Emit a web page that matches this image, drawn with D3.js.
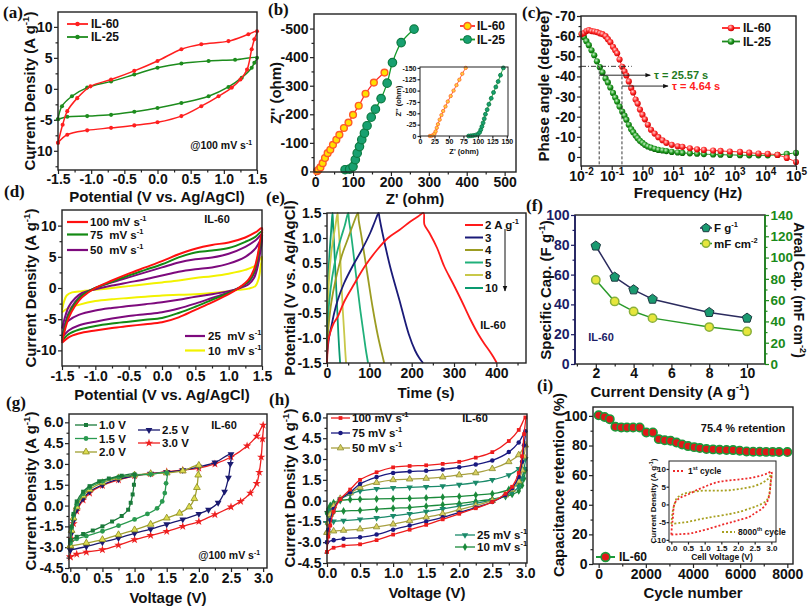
<!DOCTYPE html>
<html><head><meta charset="utf-8">
<script src="https://cdn.jsdelivr.net/npm/d3@7/dist/d3.min.js"></script>
<style>html,body{margin:0;padding:0;background:#fff;}svg{display:block;}</style>
</head><body>
<script>
// ================= DATA =================
// (a) CV at 100 mV/s, [V, A/g]
const aIL60 = [[-1.5,-8.7],[-1.43,-5.8],[-1.36,-3.6],[-1.21,-1.5],[-1.01,0.4],[-0.7,1.5],[-0.35,2.9],[0,4.5],[0.36,6.4],[0.66,7.2],[1.07,7.7],[1.37,8.8],[1.5,9.3],
  [1.46,8.0],[1.42,6.4],[1.35,3.1],[1.25,1.5],[1.12,0.2],[0.92,-1.2],[0.66,-2.8],[0.36,-4.4],[0,-5.4],[-0.35,-5.9],[-0.7,-6.3],[-1.06,-6.7],[-1.36,-7.4],[-1.5,-8.7]];
const aIL25 = [[-1.5,-4.9],[-1.44,-2.8],[-1.29,-1.2],[-1.06,0.2],[-0.7,1.2],[-0.35,2.3],[0,3.4],[0.36,4.1],[0.77,4.5],[1.17,4.7],[1.5,5.0],
  [1.46,4.2],[1.42,3.4],[1.27,1.8],[1.07,0.3],[0.77,-1.2],[0.36,-2.3],[0,-3.1],[-0.35,-3.7],[-0.7,-4.2],[-1.06,-4.4],[-1.36,-4.5],[-1.5,-4.9]];
const aXTicks = [-1.5,-1,-0.5,0,0.5,1,1.5];
const aYTicks = [-10,-5,0,5,10];

// (b) Nyquist [Z', -Z'']
const bIL60 = [[5,1],[9,6],[14,14],[20,29],[26,47],[33,64],[40,76],[47,93],[56,111],[64,128],[76,152],[88,171],[100,198],[115,230],[133,272],[155,311],[183,346]];
const bIL25 = [[79,6],[91,8],[100,17],[106,41],[111,64],[117,87],[123,111],[130,134],[137,160],[148,190],[159,218],[174,255],[190,309],[204,381],[227,451],[261,498]];
const bInIL60 = [[17,0],[20,0.5],[23,2],[25,5],[27,10],[29,18],[31,26],[34,36],[37,46],[40,55],[44,65],[48,76],[53,88],[58,100],[63,112],[68,124],[73,137],[79,150]];
const bInIL25 = [[84,0],[88,0.5],[92,1],[96,2],[100,4],[103,8],[105,14],[107,21],[109,29],[111,38],[113,48],[116,58],[119,70],[123,83],[127,96],[131,108],[135,120],[139,134],[144,150]];
const bXTicks = [0,100,200,300,400,500];
const bYTicks = [0,100,200,300,400,500];
const bInTicks = [0,25,50,75,100,125,150];

// (c) Bode phase
const cFreq = [0.0105,0.0125,0.015,0.018,0.022,0.027,0.033,0.041,0.05,0.063,0.075,0.09,0.11,0.13,0.15,0.18,0.22,0.26,0.3,0.36,0.43,0.5,0.6,0.7,0.83,1.0,1.2,1.5,1.9,2.5,3.3,4.5,6,9,14,20,35,60,100,200,350,700,1500,3000,6000,1.2e4,2.5e4,5e4,1e5];
const cPhase60 = [-61,-61.5,-62.5,-63,-62.5,-62.3,-62,-61.4,-61,-60,-58.5,-57,-54.7,-53,-51.5,-48.4,-44.8,-42.5,-40.5,-37.5,-34.3,-32,-28.5,-26.5,-23.5,-21,-18.7,-16,-13.5,-11.6,-9.8,-8.3,-7,-6,-5.3,-5,-4.3,-3.8,-3.5,-3.2,-3,-2.7,-2.5,-2.1,-1.7,-1.5,-1.0,0.5,2.5];
const cPhase25 = [-61,-59.5,-57.5,-55.5,-53,-50.5,-47.5,-44.6,-42,-39,-37,-34.5,-31.8,-29.5,-27.5,-25,-22.5,-20.5,-18.5,-16,-13.8,-12.3,-10.6,-9.3,-8,-7,-6,-5.2,-4.6,-4,-3.5,-3.2,-2.9,-2.5,-2.2,-2,-1.8,-1.6,-1.4,-1.2,-1.1,-1.0,-0.9,-0.8,-0.8,-0.8,-1.0,-1.5,-2.0];
const cTau = [25.57, 4.64];
const cXTicks = [1e-2,1e-1,1e0,1e1,1e2,1e3,1e4,1e5];
const cYTicks = [0,-10,-20,-30,-40,-50,-60,-70];

// (d) CV of IL-60 at scan rates
const dR100 = [[-1.5,-8.8],[-1.45,-6.5],[-1.4,-4.8],[-1.3,-2.8],[-1.2,-1.5],[-1.0,0],[-0.75,1.2],[-0.5,2.3],[-0.25,3.3],[0,4.3],[0.25,5.4],[0.5,6.3],[0.75,6.9],[1.0,7.3],[1.25,8.1],[1.4,8.9],[1.5,9.6],
  [1.47,7.5],[1.43,5],[1.38,3],[1.3,1.4],[1.15,0],[1.0,-1.0],[0.75,-2.3],[0.5,-3.5],[0.25,-4.7],[0,-5.5],[-0.25,-5.8],[-0.5,-6.1],[-0.75,-6.4],[-1.0,-6.8],[-1.25,-7.3],[-1.4,-7.9],[-1.5,-8.8]];
const dG75 = [[-1.5,-8.5],[-1.45,-6],[-1.4,-4.3],[-1.3,-2.4],[-1.2,-1.2],[-1.0,0],[-0.75,1.0],[-0.5,2.0],[-0.25,2.9],[0,3.8],[0.25,4.9],[0.5,5.7],[0.75,6.0],[1.0,6.4],[1.25,7.4],[1.4,8.2],[1.5,9.1],
  [1.47,7],[1.43,4.5],[1.38,2.6],[1.3,1.1],[1.15,0],[1.0,-0.8],[0.75,-1.9],[0.5,-3.0],[0.25,-4.0],[0,-4.8],[-0.25,-5.1],[-0.5,-5.4],[-0.75,-5.7],[-1.0,-6.1],[-1.25,-6.7],[-1.4,-7.4],[-1.5,-8.5]];
const dP50 = [[-1.5,-8.0],[-1.45,-5.6],[-1.4,-4.0],[-1.3,-2.2],[-1.2,-1.1],[-1.0,0],[-0.75,0.9],[-0.5,1.7],[-0.25,2.5],[0,3.3],[0.25,4.1],[0.5,4.6],[0.75,4.9],[1.0,5.5],[1.25,6.6],[1.4,7.6],[1.5,8.6],
  [1.47,6.5],[1.43,4.2],[1.38,2.3],[1.3,1.0],[1.15,0],[1.0,-0.7],[0.75,-1.6],[0.5,-2.5],[0.25,-3.3],[0,-3.9],[-0.25,-4.2],[-0.5,-4.5],[-0.75,-4.9],[-1.0,-5.4],[-1.25,-6.0],[-1.4,-6.8],[-1.5,-8.0]];
const dP25 = [[-1.5,-6.5],[-1.45,-4.5],[-1.4,-3.0],[-1.3,-1.6],[-1.2,-0.8],[-1.0,-0.2],[-0.75,0.4],[-0.5,0.9],[-0.25,1.4],[0,2.0],[0.25,2.6],[0.5,3.0],[0.75,3.3],[1.0,3.9],[1.25,5.0],[1.4,6.3],[1.5,8.0],
  [1.47,5.5],[1.43,3.2],[1.38,1.6],[1.3,0.6],[1.15,-0.1],[1.0,-0.5],[0.75,-1.0],[0.5,-1.4],[0.25,-1.9],[0,-2.3],[-0.25,-2.6],[-0.5,-2.9],[-0.75,-3.2],[-1.0,-3.6],[-1.25,-4.3],[-1.4,-5.2],[-1.5,-6.5]];
const dY10 = [[-1.5,-3.5],[-1.47,-2.2],[-1.43,-1.2],[-1.35,-0.7],[-1.2,-0.5],[-1.0,-0.3],[-0.75,0],[-0.5,0.3],[-0.25,0.6],[0,0.9],[0.25,1.2],[0.5,1.6],[0.75,1.9],[1.0,2.3],[1.25,2.9],[1.4,3.6],[1.5,5.0],
  [1.48,3.5],[1.45,1.5],[1.4,0.3],[1.3,-0.1],[1.15,-0.3],[1.0,-0.5],[0.75,-0.8],[0.5,-1.0],[0.25,-1.1],[0,-1.2],[-0.25,-1.4],[-0.5,-1.6],[-0.75,-1.8],[-1.0,-2.1],[-1.25,-2.7],[-1.4,-3.2],[-1.5,-3.9]];

// (e) GCD [t s, V]
const eR2 = [[0,-1.5],[1,-1.3],[3,-1.05],[8,-0.88],[15,-0.72],[25,-0.58],[42,-0.25],[65,0.09],[89,0.43],[118,0.76],[144,1.0],[171,1.16],[197,1.33],[215,1.43],[228,1.5],
  [230,1.27],[242,1.1],[260,0.8],[277,0.43],[297,0.1],[317,-0.24],[337,-0.6],[357,-0.92],[372,-1.12],[383,-1.25],[393,-1.38],[401,-1.5]];
const eN3 = [[0,-1.5],[0.5,-1.3],[2,-1.18],[5,-0.98],[10,-0.78],[17,-0.5],[25,-0.25],[40,0.09],[60,0.43],[82,0.76],[102,1.1],[113,1.33],[122,1.5],
  [124,1.4],[131,1.1],[149,0.43],[171,-0.24],[193,-0.92],[208,-1.25],[218,-1.4],[227,-1.5]];
const eO4 = [[0,-1.5],[0.5,-1.2],[2,-0.95],[5,-0.65],[10,-0.3],[20,0.15],[35,0.65],[50,1.0],[62,1.28],[73,1.5],
  [75,1.35],[82,1.0],[95,0.3],[108,-0.4],[120,-0.95],[128,-1.25],[135,-1.5]];
const eG5 = [[0,-1.5],[0.5,-1.1],[2,-0.7],[5,-0.3],[12,0.2],[22,0.65],[33,1.0],[42,1.25],[50,1.5],
  [52,1.35],[58,1.0],[68,0.3],[78,-0.4],[87,-0.95],[92,-1.25],[97,-1.5]];
const eY8 = [[0,-1.5],[0.5,-0.9],[2,-0.3],[5,0.2],[10,0.7],[15,1.0],[20,1.25],[25,1.5],
  [26,1.35],[29,1.0],[33,0.3],[37,-0.4],[41,-0.95],[43,-1.25],[45,-1.5]];
const eT10 = [[0,-1.5],[0.3,-0.9],[1,-0.4],[3,0.2],[6,0.7],[9,1.05],[11,1.3],[13,1.5],
  [14,1.35],[16,1.0],[20,0.3],[24,-0.4],[27,-0.95],[29,-1.25],[31,-1.5]];
const eLegend = ["2 A g", "3", "4", "5", "8", "10"];
const eXTicks = [0,100,200,300,400];
const eYTicks = [-1.5,-1,-0.5,0,0.5,1,1.5];

// (f) rate capability
const fCurrent = [2,3,4,5,8,10];
const fSpecific = [79.2,58.3,49.8,43.5,34.6,30.8];
const fAreal = [79,58.8,49.4,43.1,34.7,30.6];
const fXTicks = [2,4,6,8,10];
const fYTicks = [0,20,40,60,80,100];
const fY2Ticks = [0,20,40,60,80,100,120,140];

// (g) CV at voltage windows (100 mV/s)
const g10 = [[0,-2.5],[0.02,-1.5],[0.05,-0.6],[0.1,0.3],[0.2,1.0],[0.3,1.4],[0.45,1.75],[0.6,1.95],[0.8,2.15],[1.0,2.25],
  [0.99,1.5],[0.97,0.8],[0.94,0.2],[0.9,-0.3],[0.8,-0.75],[0.65,-1.15],[0.5,-1.5],[0.35,-1.8],[0.2,-2.05],[0.1,-2.25],[0,-2.5]];
const g15 = [[0,-2.7],[0.02,-1.6],[0.05,-0.7],[0.1,0.1],[0.2,0.85],[0.3,1.3],[0.5,1.75],[0.75,2.05],[1.0,2.2],[1.25,2.25],[1.5,2.35],
  [1.49,1.6],[1.47,0.9],[1.43,0.3],[1.35,-0.2],[1.2,-0.6],[1.0,-1.0],[0.75,-1.45],[0.5,-1.85],[0.25,-2.2],[0.1,-2.4],[0,-2.7]];
const g20 = [[0,-2.9],[0.02,-1.8],[0.05,-0.9],[0.1,-0.1],[0.2,0.7],[0.3,1.15],[0.5,1.65],[0.75,2.0],[1.0,2.2],[1.25,2.3],[1.5,2.35],[1.75,2.5],[2.0,2.9],
  [1.99,2.2],[1.97,1.3],[1.93,0.5],[1.85,-0.1],[1.7,-0.55],[1.5,-0.9],[1.25,-1.35],[1.0,-1.75],[0.75,-2.1],[0.5,-2.45],[0.25,-2.7],[0,-2.9]];
const g25 = [[0,-3.2],[0.02,-2.0],[0.05,-1.1],[0.1,-0.3],[0.2,0.5],[0.3,1.0],[0.5,1.5],[0.75,1.9],[1.0,2.15],[1.25,2.3],[1.5,2.4],[1.75,2.55],[2.0,2.8],[2.25,3.1],[2.5,3.7],
  [2.49,3.0],[2.46,2.0],[2.4,1.0],[2.3,0.2],[2.15,-0.3],[2.0,-0.6],[1.75,-1.0],[1.5,-1.35],[1.25,-1.7],[1.0,-2.0],[0.75,-2.35],[0.5,-2.65],[0.25,-2.95],[0,-3.2]];
const g30 = [[0,-3.7],[0.02,-2.4],[0.05,-1.3],[0.1,-0.4],[0.2,0.4],[0.3,0.9],[0.5,1.45],[0.75,1.85],[1.0,2.15],[1.25,2.3],[1.5,2.45],[1.75,2.55],[2.0,2.7],[2.25,3.0],[2.5,3.5],[2.75,4.3],[2.9,5.0],[3.0,5.8],
  [2.99,4.8],[2.97,3.5],[2.94,2.4],[2.9,1.6],[2.8,0.9],[2.65,0.3],[2.5,-0.1],[2.25,-0.65],[2.0,-1.15],[1.75,-1.5],[1.5,-1.86],[1.25,-2.15],[1.0,-2.46],[0.75,-2.85],[0.5,-3.18],[0.25,-3.35],[0.1,-3.5],[0,-3.7]];
const gVTicks = [0,0.5,1,1.5,2,2.5,3];
const gITicks = [-4.5,-3,-1.5,0,1.5,3,4.5,6];

// (h) CV of device at scan rates
const h100 = [[0,-3.7],[0.02,-2.6],[0.05,-1.8],[0.1,-0.8],[0.2,0.1],[0.35,0.8],[0.5,1.5],[0.75,2.05],[1.0,2.4],[1.25,2.5],[1.5,2.55],[1.75,2.65],[2.0,2.8],[2.25,3.1],[2.5,3.5],[2.75,4.3],[2.9,5.1],[3.0,6.0],
  [2.98,4.8],[2.95,3.2],[2.9,2.0],[2.8,1.0],[2.7,0.5],[2.5,-0.1],[2.25,-0.55],[2.0,-0.95],[1.75,-1.35],[1.5,-1.75],[1.25,-2.1],[1.0,-2.45],[0.75,-2.85],[0.5,-3.15],[0.25,-3.25],[0.1,-3.4],[0,-3.7]];
const h75 = [[0,-3.0],[0.02,-2.1],[0.05,-1.4],[0.1,-0.6],[0.2,0.1],[0.35,0.6],[0.5,1.2],[0.75,1.7],[1.0,2.0],[1.25,2.1],[1.5,2.15],[1.75,2.25],[2.0,2.4],[2.25,2.6],[2.5,2.9],[2.75,3.5],[2.9,4.2],[3.0,5.0],
  [2.98,4.0],[2.95,2.8],[2.9,1.7],[2.8,0.9],[2.7,0.4],[2.5,-0.1],[2.25,-0.5],[2.0,-0.85],[1.75,-1.2],[1.5,-1.5],[1.25,-1.8],[1.0,-2.1],[0.75,-2.45],[0.5,-2.65],[0.25,-2.75],[0.1,-2.85],[0,-3.0]];
const h50 = [[0,-2.3],[0.02,-1.6],[0.05,-1.0],[0.1,-0.4],[0.2,0.15],[0.35,0.55],[0.5,0.95],[0.75,1.3],[1.0,1.5],[1.25,1.55],[1.5,1.6],[1.75,1.7],[2.0,1.85],[2.25,2.0],[2.5,2.3],[2.75,2.8],[2.9,3.3],[3.0,4.0],
  [2.98,3.2],[2.95,2.2],[2.9,1.4],[2.8,0.8],[2.7,0.4],[2.5,0.0],[2.25,-0.35],[2.0,-0.65],[1.75,-0.95],[1.5,-1.2],[1.25,-1.45],[1.0,-1.7],[0.75,-1.9],[0.5,-2.05],[0.25,-2.15],[0.1,-2.2],[0,-2.3]];
const h25 = [[0,-1.6],[0.02,-1.1],[0.05,-0.7],[0.1,-0.3],[0.2,0.1],[0.35,0.45],[0.5,0.7],[0.75,0.85],[1.0,0.92],[1.25,0.95],[1.5,1.0],[1.75,1.05],[2.0,1.15],[2.25,1.3],[2.5,1.5],[2.75,1.85],[2.9,2.3],[3.0,3.0],
  [2.98,2.3],[2.95,1.6],[2.9,1.0],[2.8,0.6],[2.7,0.35],[2.5,0.05],[2.25,-0.2],[2.0,-0.4],[1.75,-0.6],[1.5,-0.8],[1.25,-0.95],[1.0,-1.1],[0.75,-1.25],[0.5,-1.35],[0.25,-1.45],[0.1,-1.5],[0,-1.6]];
const h10 = [[0,-0.9],[0.02,-0.6],[0.05,-0.35],[0.1,-0.15],[0.2,0.0],[0.35,0.08],[0.5,0.1],[0.75,0.12],[1.0,0.14],[1.25,0.16],[1.5,0.2],[1.75,0.25],[2.0,0.3],[2.25,0.4],[2.5,0.5],[2.75,0.8],[2.9,1.3],[3.0,2.2],
  [2.98,1.6],[2.95,1.1],[2.9,0.7],[2.8,0.45],[2.7,0.3],[2.5,0.1],[2.25,-0.05],[2.0,-0.2],[1.75,-0.3],[1.5,-0.4],[1.25,-0.5],[1.0,-0.55],[0.75,-0.62],[0.5,-0.7],[0.25,-0.75],[0.1,-0.8],[0,-0.9]];

// (i) cycling stability
const iCycle = [0,250,470,710,960,1200,1460,1740,2020,2300,2550,2800,3050,3300,3540,3790,4050,4290,4570,4850,5130,5420,5700,5980,6270,6550,6830,7100,7380,7650,8000];
const iRetention = [100.4,99.3,97.8,92.6,92.2,92.2,92.2,92.2,88.8,88.8,84.3,83.6,83.2,82,80.7,79.6,78.9,78.3,77.6,77.4,77.1,77,76.9,76.5,76,75.8,75.8,75.7,75.7,75.6,75.6];
const iFirst = [[0,-8.5],[0.02,-6],[0.05,-3.5],[0.1,0.3],[0.25,1.8],[0.5,2.8],[0.75,4.0],[1.0,5.0],[1.25,5.9],[1.5,6.5],[1.75,6.8],[2.0,7.0],[2.25,7.3],[2.5,7.7],[2.75,8.3],[2.9,8.8],[3.0,9.3],
  [2.98,6],[2.93,2.2],[2.85,0.3],[2.73,-1.1],[2.5,-2.5],[2.34,-3.5],[2.0,-4.5],[1.74,-5.2],[1.5,-5.8],[1.15,-6.8],[0.8,-7.7],[0.55,-8.2],[0.25,-8.4],[0,-8.5]];
const i8000 = [[0,-5.5],[0.02,-3.5],[0.05,-1.5],[0.1,0.2],[0.16,1.7],[0.3,2.7],[0.5,3.3],[0.75,3.7],[1.0,3.9],[1.25,3.9],[1.5,3.9],[1.75,4.0],[2.0,4.3],[2.25,4.7],[2.5,5.2],[2.75,6.2],[2.9,7.2],[3.0,8.5],
  [2.98,6.5],[2.93,2.6],[2.85,1.0],[2.63,-0.2],[2.4,-1.0],[2.04,-2.1],[1.75,-2.7],[1.25,-3.5],[1.0,-3.9],[0.75,-4.4],[0.5,-4.9],[0.25,-5.2],[0,-5.5]];
const iXTicks = [0,2000,4000,6000,8000];
const iYTicks = [0,20,40,60,80,100];
const iInX = [0,0.5,1,1.5,2,2.5,3];
const iInY = [-10,-5,0,5,10];

// ================= DRAWING =================
const FONT = '"Liberation Sans", Arial, Helvetica, sans-serif';
const SERIF = '"Liberation Serif", "Times New Roman", serif';
const svg = d3.select("body").append("svg").attr("width",809).attr("height",608)
  .attr("font-family",FONT);
svg.append("rect").attr("width",809).attr("height",608).attr("fill","#fff");
const defs = svg.append("defs");
function grad(id,c0,c1,c2){
  const g=defs.append("radialGradient").attr("id",id).attr("cx","40%").attr("cy","35%").attr("r","65%");
  g.append("stop").attr("offset","0%").attr("stop-color",c0);
  g.append("stop").attr("offset","55%").attr("stop-color",c1);
  g.append("stop").attr("offset","100%").attr("stop-color",c2);
}
grad("gRed","#ffd0d0","#ff2a2a","#c80000");
grad("gGrn","#c8f0c8","#1e9a1e","#0a600a");
defs.append("marker").attr("id","arr").attr("viewBox","0 0 10 10").attr("refX",9).attr("refY",5)
  .attr("markerWidth",6).attr("markerHeight",6).attr("orient","auto")
  .append("path").attr("d","M0,1 L10,5 L0,9 Z").attr("fill","#111");

const fmt = dec => d => (d < -1e-9 ? "-" : "") + Math.abs(d).toFixed(dec);
const range = (a,b,s) => d3.range(a, b + s/2, s);

function panel(p){
  const x = (p.log ? d3.scaleLog() : d3.scaleLinear()).domain(p.xd).range([p.L,p.R]);
  const y = d3.scaleLinear().domain(p.yd).range([p.B,p.T]);
  const g = svg.append("g");
  const fs = p.fs || 14;
  const st = (sel,color,size) => {
    sel.select(".domain").remove();
    sel.selectAll("line").attr("stroke", color||"#222").attr("stroke-width",1.2);
    sel.selectAll("text").attr("font-size",size||fs).attr("font-weight","bold").attr("fill",color||"#111").attr("font-family",FONT);
  };
  if (p.bg) g.append("rect").attr("x",p.L).attr("y",p.T).attr("width",p.R-p.L).attr("height",p.B-p.T).attr("fill","#fff");
  const tl = p.tick || 4, ml = p.minor || 2.5;
  if (p.xMinor) st(g.append("g").attr("transform",`translate(0,${p.B})`).call(d3.axisBottom(x).tickValues(p.xMinor).tickSize(ml).tickFormat("")));
  if (p.yMinor) st(g.append("g").attr("transform",`translate(${p.L},0)`).call(d3.axisLeft(y).tickValues(p.yMinor).tickSize(ml).tickFormat("")), p.yColor);
  const xa = g.append("g").attr("transform",`translate(0,${p.B})`)
    .call(d3.axisBottom(x).tickValues(p.xTicks).tickSize(tl).tickPadding(p.xpad ?? p.pad ?? 1.5).tickFormat(p.xFmt));
  st(xa);
  const ya = g.append("g").attr("transform",`translate(${p.L},0)`)
    .call(d3.axisLeft(y).tickValues(p.yTicks).tickSize(tl).tickPadding(p.pad ?? 1.5).tickFormat(p.yFmt));
  st(ya, p.yColor, p.yfs);
  const layer = g.append("g");
  g.append("rect").attr("x",p.L).attr("y",p.T).attr("width",p.R-p.L).attr("height",p.B-p.T)
    .attr("fill","none").attr("stroke","#222").attr("stroke-width",p.fw||1.4);
  return {x,y,g,layer,xa,ya,st,p};
}

function text(x0,y0,parts,o={}){
  const fs=o.fs||15;
  const t=svg.append("text").attr("x",x0).attr("y",y0).attr("font-size",fs).attr("font-weight",o.weight||"bold")
    .attr("fill",o.color||"#111").attr("text-anchor",o.anchor||"middle").attr("font-family",o.family||FONT);
  if(o.rot) t.attr("transform",`rotate(${o.rot},${x0},${y0})`);
  let cur=0;
  (Array.isArray(parts)?parts:[parts]).forEach(pt=>{
    const sup = typeof pt!=="string";
    const target = sup ? -fs*0.42 : 0;
    const ts=t.append("tspan").attr("dy",target-cur).text(sup?pt.s:pt);
    if(sup) ts.attr("font-size",fs*0.65);
    cur=target;
  });
  return t;
}

const rom = d3.curveCatmullRom.alpha(0.5);
function series(P, data, o){
  const line=d3.line().x(d=>P.x(d[0])).y(d=>P.y(d[1])).curve(o.curve||rom);
  if(o.line!==false) P.layer.append("path").attr("d",line(data)).attr("fill","none").attr("stroke",o.color)
    .attr("stroke-width",o.w||1.5).attr("stroke-dasharray",o.dash||null).attr("stroke-linejoin","round");
  if(o.sym){
    P.layer.append("g").selectAll("path").data(data).join("path")
      .attr("transform",d=>`translate(${P.x(d[0])},${P.y(d[1])})${o.rot?` rotate(${o.rot})`:""}`)
      .attr("d",d3.symbol(o.sym,o.size||14)).attr("fill",o.fill||o.color)
      .attr("stroke",o.stroke||"none").attr("stroke-width",o.sw||1);
  }
}
function legendItem(x1,x2,yy,o,label,tx,fs){
  svg.append("line").attr("x1",x1).attr("x2",x2).attr("y1",yy).attr("y2",yy).attr("stroke",o.color)
    .attr("stroke-width",o.w||1.8).attr("stroke-dasharray",o.dash||null);
  if(o.sym) svg.append("path").attr("transform",`translate(${(x1+x2)/2},${yy})${o.rot?` rotate(${o.rot})`:""}`)
    .attr("d",d3.symbol(o.sym,o.size||14)).attr("fill",o.fill||o.color).attr("stroke",o.stroke||"none").attr("stroke-width",o.sw||1);
  text(tx, yy+fs*0.36, label, {fs:fs, anchor:"start"});
}
const pentagon = {draw(ctx,size){const r=Math.sqrt(size/2.38);for(let i=0;i<5;i++){const a=-Math.PI/2+i*2*Math.PI/5;const px=r*Math.cos(a),py=r*Math.sin(a);i?ctx.lineTo(px,py):ctx.moveTo(px,py);}ctx.closePath();}};

// panel labels
[["(a)",3,18],["(b)",268,15],["(c)",522,18],["(d)",4,197],["(e)",266,203],["(f)",526,211],["(g)",6,408],["(h)",269,405],["(i)",537,391]]
  .forEach(([s,x0,y0])=>text(x0,y0,s,{fs:17,anchor:"start",family:SERIF}));

// ---------- (a) ----------
{
  const P=panel({L:58,R:257,T:12,B:170,xd:[-1.5,1.5],yd:[-13.1,12.4],xTicks:aXTicks,yTicks:aYTicks,xpad:0.5,
    xMinor:range(-1.25,1.25,0.5),yMinor:[-7.5,-2.5,2.5,7.5,-12.5],xFmt:fmt(1),yFmt:fmt(0)});
  series(P,aIL25,{color:"#1d8c1d",w:1.5,sym:d3.symbolCircle,size:13});
  series(P,aIL60,{color:"#ff1f1f",w:1.5,sym:d3.symbolCircle,size:13});
  legendItem(67,88,24,{color:"#ff1f1f",sym:d3.symbolCircle,size:16},"IL-60",91,12);
  legendItem(67,88,37,{color:"#1d8c1d",sym:d3.symbolCircle,size:16},"IL-25",91,12);
  text(252,149,["@100 mV s",{s:"-1"}],{fs:10.5,anchor:"end"});
  text(157,201.5,"Potential (V vs. Ag/AgCl)");
  text(35,91,["Current Density (A g",{s:"-1"},")"],{rot:-90});
}
// ---------- (b) ----------
{
  const P=panel({L:314,R:516,T:14,B:172,xd:[-3,530],yd:[-2,551],xTicks:bXTicks,yTicks:bYTicks,
    xMinor:range(50,450,100),yMinor:range(50,450,100),xFmt:fmt(0),yFmt:d=>d===0?"0":"-"+d});
  series(P,bIL60,{color:"#ff2a2a",w:1.3,sym:d3.symbolCircle,size:36,fill:"#ffe000",stroke:"#ff5a2a",sw:1.4});
  series(P,bIL25,{color:"#139a2a",w:1.3,sym:d3.symbolCircle,size:56,fill:"#18a070",stroke:"#0a7a40",sw:1.2});
  legendItem(460,475,26,{color:"#ff2a2a",sym:d3.symbolCircle,size:40,fill:"#ffe000",stroke:"#ff5a2a",sw:1.4},"IL-60",477,12);
  legendItem(460,475,39.5,{color:"#139a2a",sym:d3.symbolCircle,size:50,fill:"#18a070",stroke:"#0a7a40"},"IL-25",477,12);
  text(415,204,"Z' (ohm)");
  text(281,93,"Z'' (ohm)",{rot:-90});
  // inset
  const Q=panel({L:420,R:508,T:67,B:136,xd:[0,152],yd:[0,152],xTicks:bInTicks,yTicks:bInTicks,bg:true,
    fs:7,tick:2.5,pad:1,fw:1,xFmt:fmt(0),yFmt:d=>d===0?"0":"-"+d});
  series(Q,bInIL60,{color:"#ff4a2a",w:0.9,sym:d3.symbolCircle,size:9,fill:"#ffd040",stroke:"#ff6a2a",sw:0.8});
  series(Q,bInIL25,{color:"#139a2a",w:0.9,sym:d3.symbolCircle,size:12,fill:"#18a070",stroke:"#0a7a40",sw:0.8});
  text(464,154,"Z' (ohm)",{fs:7.5});
  text(401,101,"Z'' (ohm)",{fs:7.5,rot:-90});
}
// ---------- (c) ----------
{
  const P=panel({L:581,R:796,T:16,B:166,log:true,xd:[1e-2,1e5],yd:[4.5,-70],xTicks:cXTicks,yTicks:cYTicks,
    yMinor:range(-65,-5,10),xFmt:()=>"",yFmt:fmt(0),yfs:14});
  P.xa.selectAll(".tick text").each(function(d){
    const t=d3.select(this); t.text("");
    t.append("tspan").text("10");
    t.append("tspan").attr("dy",-6).attr("font-size",10).text(Math.round(Math.log10(d)));
  });
  const d60=cFreq.map((f,i)=>[f,cPhase60[i]]), d25=cFreq.map((f,i)=>[f,cPhase25[i]]);
  series(P,d25,{color:"#1e8a1e",w:1,sym:d3.symbolCircle,size:30,fill:"url(#gGrn)"});
  series(P,d60,{color:"#ff2020",w:1,sym:d3.symbolCircle,size:30,fill:"url(#gRed)"});
  const f1=1/cTau[0], f2=1/cTau[1];
  const L=P.layer;
  L.append("line").attr("x1",P.x(1e-2)).attr("x2",P.x(0.45)).attr("y1",P.y(-45)).attr("y2",P.y(-45))
    .attr("stroke","#222").attr("stroke-width",0.9).attr("stroke-dasharray","5,2,1,2");
  [f1,f2].forEach(f=>L.append("line").attr("x1",P.x(f)).attr("x2",P.x(f)).attr("y1",P.y(-45)).attr("y2",P.y(4.5))
    .attr("stroke","#222").attr("stroke-width",0.9).attr("stroke-dasharray","3,2"));
  L.append("line").attr("x1",P.x(f1)).attr("x2",P.x(1.8)).attr("y1",P.y(-40.6)).attr("y2",P.y(-40.6))
    .attr("stroke","#111").attr("stroke-width",0.9).attr("marker-end","url(#arr)");
  L.append("line").attr("x1",P.x(f2)).attr("x2",P.x(6.8)).attr("y1",P.y(-35.2)).attr("y2",P.y(-35.2))
    .attr("stroke","#111").attr("stroke-width",0.9).attr("marker-end","url(#arr)");
  text(P.x(2.4),P.y(-40.6)+4,"τ = 25.57 s",{fs:11,anchor:"start",color:"#1e7a1e"});
  text(P.x(9.2),P.y(-35.2)+4,"τ = 4.64 s",{fs:11,anchor:"start",color:"#ff2020"});
  legendItem(722,740,28,{color:"#ff2020",sym:d3.symbolCircle,size:34,fill:"url(#gRed)"},"IL-60",743,12);
  legendItem(722,740,41.5,{color:"#1e8a1e",sym:d3.symbolCircle,size:34,fill:"url(#gGrn)"},"IL-25",743,12);
  text(688,198,"Frequency (Hz)");
  text(549,86,"Phase angle (degree)",{rot:-90});
}
// ---------- (d) ----------
{
  const P=panel({L:62,R:262,T:210,B:366,xd:[-1.5,1.5],yd:[-12.5,12.5],xTicks:aXTicks,yTicks:aYTicks,
    xMinor:range(-1.25,1.25,0.5),yMinor:[-7.5,-2.5,2.5,7.5],xFmt:fmt(1),yFmt:fmt(0)});
  const cols={r:"#ff1010",g:"#138a13",p:"#7d0a7d",y:"#f2f200"};
  series(P,dY10,{color:cols.y,w:2});
  series(P,dP25,{color:cols.p,w:2});
  series(P,dP50,{color:cols.p,w:2});
  series(P,dG75,{color:cols.g,w:2});
  series(P,dR100,{color:cols.r,w:2});
  legendItem(67,88,222,{color:cols.r,w:2.2},["100 mV s",{s:"-1"}],90,11.5);
  legendItem(67,88,234.5,{color:cols.g,w:2.2},["75\u00a0 mV s",{s:"-1"}],90,11.5);
  legendItem(67,88,250,{color:cols.p,w:2.2},["50\u00a0 mV s",{s:"-1"}],90,11.5);
  legendItem(185,205,336,{color:cols.p,w:2.2},["25\u00a0 mV s",{s:"-1"}],208,11.5);
  legendItem(185,205,350.5,{color:cols.y,w:2.2},["10\u00a0 mV s",{s:"-1"}],208,11.5);
  text(217,223,"IL-60",{fs:11});
  text(162,400,"Potential (V vs. Ag/AgCl)");
  text(36,288,["Current Density (A g",{s:"-1"},")"],{rot:-90});
}
// ---------- (e) ----------
{
  const P=panel({L:327,R:526,T:213,B:363,xd:[0,470],yd:[-1.5,1.5],xTicks:eXTicks,yTicks:eYTicks,
    xMinor:range(50,450,100),yMinor:range(-1.25,1.25,0.5),xFmt:fmt(0),yFmt:fmt(1)});
  const cols=["#ff1a1a","#1a1a78","#9c9c22","#20b07a","#c8c84a","#0a9a70"];
  const sets=[eR2,eN3,eO4,eG5,eY8,eT10];
  [5,4,3,2,1,0].forEach(i=>series(P,sets[i],{color:cols[i],w:1.8}));
  const ys=[225,237.5,250,262.5,275,288];
  eLegend.forEach((lb,i)=>legendItem(465,483,ys[i],{color:cols[i],w:2},i===0?[lb,{s:"-1"}]:lb,485,11.5));
  svg.append("line").attr("x1",505).attr("x2",505).attr("y1",229).attr("y2",291)
    .attr("stroke","#111").attr("stroke-width",1).attr("marker-end","url(#arr)");
  text(493,329,"IL-60",{fs:11});
  text(426,398,"Time (s)");
  text(295,288,"Potential (V vs. Ag/AgCl)",{rot:-90});
}
// ---------- (f) ----------
{
  const NAV="#1c1c66", GR="#1a8a1a";
  const P=panel({L:575,R:765,T:215,B:364,xd:[0.9,10.95],yd:[0,100],xTicks:fXTicks,yTicks:fYTicks,xpad:0.5,
    xMinor:[1,3,5,7,9],yMinor:range(10,90,20),xFmt:fmt(0),yFmt:fmt(0),yColor:NAV});
  const y2=d3.scaleLinear().domain([0,140]).range([364,215]);
  const ra=P.g.append("g").attr("transform","translate(765,0)").call(d3.axisRight(y2).tickValues(fY2Ticks).tickSize(4).tickPadding(1.5).tickFormat(fmt(0)));
  P.st(ra,GR,13.5);
  P.g.append("g").attr("transform","translate(765,0)").call(d3.axisRight(y2).tickValues(range(10,130,20)).tickSize(2.5).tickFormat("")).call(s=>P.st(s,GR));
  P.g.append("line").attr("x1",575).attr("x2",575).attr("y1",215).attr("y2",364).attr("stroke",NAV).attr("stroke-width",1.6);
  P.g.append("line").attr("x1",765).attr("x2",765).attr("y1",215).attr("y2",364).attr("stroke",GR).attr("stroke-width",1.6);
  const Q={x:P.x,y:y2,layer:P.layer};
  const dSpec=fCurrent.map((c,i)=>[c,fSpecific[i]]), dAre=fCurrent.map((c,i)=>[c,fAreal[i]]);
  series(P,dSpec,{color:"#2b2b5e",w:1.5,curve:d3.curveLinear,sym:pentagon,size:60,fill:"#1a9a70",stroke:"#1c3a40",sw:1});
  series(Q,dAre,{color:"#2a9a2a",w:1.5,curve:d3.curveLinear,sym:d3.symbolCircle,size:55,fill:"#e6e63c",stroke:"#8ab03a",sw:1.5});
  legendItem(700,712,228,{color:"#2b2b5e",w:1.5,sym:pentagon,size:50,fill:"#1a9a70",stroke:"#1c3a40"},["F g",{s:"-1"}],714,11.5);
  legendItem(700,712,243.5,{color:"#2a9a2a",w:1.5,sym:d3.symbolCircle,size:45,fill:"#e6e63c",stroke:"#8ab03a",sw:1.5},["mF cm",{s:"-2"}],714,11.5);
  text(601,341,"IL-60",{fs:11,color:NAV});
  text(670,396.5,["Current Density (A g",{s:"-1"},")"]);
  text(551,290,["Specific Cap. (F g",{s:"-1"},")"],{rot:-90});
  text(794,290,["Areal Cap. (mF cm",{s:"-2"},")"],{rot:90,fs:14});
}
// ---------- (g) ----------
{
  const P=panel({L:69,R:267,T:414,B:568,xd:[-0.02,3.06],yd:[-4.5,6.6],xTicks:gVTicks,yTicks:gITicks,
    xMinor:range(0.25,2.75,0.5),yMinor:range(-3.75,5.25,1.5),xFmt:fmt(1),yFmt:fmt(1)});
  const S=[
    {d:g30,o:{color:"#ee2020",w:1.3,sym:d3.symbolStar,size:22}},
    {d:g25,o:{color:"#1a1a70",w:1.3,sym:d3.symbolTriangle,size:20,rot:180}},
    {d:g20,o:{color:"#a0a030",w:1.3,sym:d3.symbolTriangle,size:20,fill:"#dcdc50",stroke:"#8a8a20",sw:0.8}},
    {d:g15,o:{color:"#2a9a50",w:1.3,sym:d3.symbolCircle,size:18}},
    {d:g10,o:{color:"#1a7a3a",w:1.3,sym:d3.symbolSquare,size:16}}];
  S.forEach(s=>series(P,s.d,s.o));
  legendItem(75,97,425,S[4].o,"1.0 V",99,11.5);
  legendItem(75,97,438.5,S[3].o,"1.5 V",99,11.5);
  legendItem(75,97,452,S[2].o,"2.0 V",99,11.5);
  legendItem(138,160,430,S[1].o,"2.5 V",162,11.5);
  legendItem(138,160,443,S[0].o,"3.0 V",162,11.5);
  text(224,429,"IL-60",{fs:11});
  text(260,559,["@100 mV s",{s:"-1"}],{fs:10.5,anchor:"end"});
  text(168,603,"Voltage (V)");
  text(36,491,["Current Density (A g",{s:"-1"},")"],{rot:-90});
}
// ---------- (h) ----------
{
  const P=panel({L:327,R:527,T:414,B:563,xd:[0,3.025],yd:[-4.5,6.25],xTicks:gVTicks,yTicks:gITicks,
    xMinor:range(0.25,2.75,0.5),yMinor:range(-3.75,5.25,1.5),xFmt:fmt(1),yFmt:fmt(1)});
  const S=[
    {d:h100,o:{color:"#ee1c1c",w:1.3,sym:d3.symbolSquare,size:14}},
    {d:h75,o:{color:"#1a1a80",w:1.3,sym:d3.symbolCircle,size:16}},
    {d:h50,o:{color:"#a8a040",w:1.3,sym:d3.symbolTriangle,size:18,fill:"#d8d060",stroke:"#8a8a30",sw:0.8}},
    {d:h25,o:{color:"#1a8a6a",w:1.3,sym:d3.symbolTriangle,size:18,rot:180}},
    {d:h10,o:{color:"#1a8a3a",w:1.3,sym:d3.symbolDiamond,size:18}}];
  [4,3,2,1,0].forEach(i=>series(P,S[i].d,S[i].o));
  legendItem(331,350,418,S[0].o,["100 mV s",{s:"-1"}],352,11.5);
  legendItem(331,350,433,S[1].o,["75 mV s",{s:"-1"}],352,11.5);
  legendItem(331,350,448,S[2].o,["50 mV s",{s:"-1"}],352,11.5);
  legendItem(455,475,535,S[3].o,["25 mV s",{s:"-1"}],477,11.5);
  legendItem(455,475,547,S[4].o,["10 mV s",{s:"-1"}],477,11.5);
  text(475,422,"IL-60",{fs:11});
  text(427,598,"Voltage (V)");
  text(295,488,["Current Density (A g",{s:"-1"},")"],{rot:-90});
}
// ---------- (i) ----------
{
  const P=panel({L:593,R:793,T:407,B:564,xd:[-240,8240],yd:[0,106],xTicks:iXTicks,yTicks:iYTicks,
    xMinor:range(1000,7000,2000),yMinor:range(10,90,20),xFmt:fmt(0),yFmt:fmt(0)});
  const dRet=iCycle.map((c,i)=>[c,iRetention[i]]);
  series(P,dRet,{color:"#1a9a3a",w:1.5,curve:d3.curveLinear,sym:d3.symbolCircle,size:55,fill:"#e01818",stroke:"#1a9a3a",sw:1.6});
  text(743,432,"75.4 % retention",{fs:11});
  legendItem(596,615,557,{color:"#1a9a3a",w:2,sym:d3.symbolCircle,size:60,fill:"#e01818",stroke:"#1a9a3a",sw:1.6},"IL-60",619,12);
  text(693,598,"Cycle number");
  text(564,485,"Capacitance retention (%)",{rot:-90});
  const Q=panel({L:669,R:776,T:461,B:542,xd:[-0.07,3.14],yd:[-10.6,12.25],xTicks:iInX,yTicks:iInY,bg:true,
    fs:8,tick:2.5,pad:0.5,fw:1,xFmt:fmt(1),yFmt:fmt(0)});
  series(Q,i8000,{color:"#a8a020",w:1.8,dash:"2,2"});
  series(Q,iFirst,{color:"#ee2a2a",w:1.8,dash:"2,2"});
  legendItem(673,685,471,{color:"#ee2a2a",w:1.8,dash:"2,2"},["1",{s:"st"}," cycle"],688,8.5);
  legendItem(722,735,532,{color:"#a8a020",w:1.8,dash:"2,2"},["8000",{s:"th"}," cycle"],738,8.5);
  text(722,560,"Cell Voltage (V)",{fs:8.5});
  text(656,501,["Current Density (A g",{s:"-1"},")"],{fs:8,rot:-90});
}
</script>
</body></html>
